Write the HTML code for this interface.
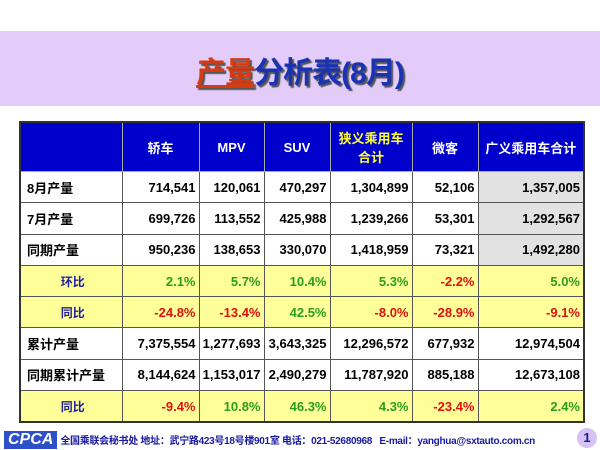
<!DOCTYPE html>
<html><head><meta charset="utf-8"><style>
body{margin:0;width:600px;height:450px;background:#fff;position:relative;overflow:hidden;font-family:"Liberation Sans","Noto Sans CJK SC",sans-serif}
.band{position:absolute;left:0;top:31px;width:600px;height:75px;background:#e3ccf9}
.title{position:absolute;left:0;top:48px;width:600px;text-align:center;font-size:30px;font-weight:bold;color:#1a33b3;text-shadow:2px 2px 1px #555;letter-spacing:-1px}
.title span{color:#d53a10;text-decoration:underline}
table{position:absolute;left:19px;top:121px;border-collapse:collapse;border:2px solid #333}
td{border:1px solid #555;padding:0 3px;height:30.3px;font-size:13px;font-weight:bold;text-align:right;background:#fff;color:#000}
tr.h td{background:#0000cc;color:#fff;text-align:center;height:48px;border-color:#aaa}
td.l{text-align:left;padding-left:6px}
td.g{background:#e2e2e2}
tr.y td{background:#ffff99;color:#2c9c1e}
tr.y td.r{color:#e01010}
tr.y td.l{text-align:center;color:#2020a0;font-size:12px}
.foot{position:absolute;top:431px;left:4px;font-size:10px;font-weight:bold;color:#1a1aa0;white-space:nowrap;letter-spacing:-0.3px}
.cpca{display:inline-block;background:#2d4fc8;color:#fff;font-style:italic;font-size:16px;padding:0 4px;margin-right:3px;letter-spacing:0}
.num{position:absolute;left:577px;top:428px;width:20px;height:20px;border-radius:50%;background:#d5c4f3;color:#1a1aa0;font-weight:bold;font-size:13px;text-align:center;line-height:20px}
</style></head><body>
<div class="band"></div>
<div class="title"><span>产量</span>分析表(8月)</div>
<table>
<colgroup><col style="width:102px"><col style="width:77px"><col style="width:65px"><col style="width:66px"><col style="width:82px"><col style="width:66px"><col style="width:106px"></colgroup>
<tr class="h"><td></td><td>轿车</td><td>MPV</td><td>SUV</td><td style="color:#ffff33">狭义乘用车<br>合计</td><td>微客</td><td>广义乘用车合计</td></tr>
<tr><td class="l">8月产量</td><td>714,541</td><td>120,061</td><td>470,297</td><td>1,304,899</td><td>52,106</td><td class="g">1,357,005</td></tr>
<tr><td class="l">7月产量</td><td>699,726</td><td>113,552</td><td>425,988</td><td>1,239,266</td><td>53,301</td><td class="g">1,292,567</td></tr>
<tr><td class="l">同期产量</td><td>950,236</td><td>138,653</td><td>330,070</td><td>1,418,959</td><td>73,321</td><td class="g">1,492,280</td></tr>
<tr class="y"><td class="l">环比</td><td>2.1%</td><td>5.7%</td><td>10.4%</td><td>5.3%</td><td class="r">-2.2%</td><td>5.0%</td></tr>
<tr class="y"><td class="l">同比</td><td class="r">-24.8%</td><td class="r">-13.4%</td><td>42.5%</td><td class="r">-8.0%</td><td class="r">-28.9%</td><td class="r">-9.1%</td></tr>
<tr><td class="l">累计产量</td><td>7,375,554</td><td>1,277,693</td><td>3,643,325</td><td>12,296,572</td><td>677,932</td><td>12,974,504</td></tr>
<tr><td class="l">同期累计产量</td><td>8,144,624</td><td>1,153,017</td><td>2,490,279</td><td>11,787,920</td><td>885,188</td><td>12,673,108</td></tr>
<tr class="y"><td class="l">同比</td><td class="r">-9.4%</td><td>10.8%</td><td>46.3%</td><td>4.3%</td><td class="r">-23.4%</td><td>2.4%</td></tr>
</table>
<div class="foot"><span class="cpca">CPCA</span>全国乘联会秘书处 地址：武宁路423号18号楼901室 电话：021-52680968 &nbsp;&nbsp;E-mail：yanghua@sxtauto.com.cn</div>
<div class="num">1</div>
</body></html>
